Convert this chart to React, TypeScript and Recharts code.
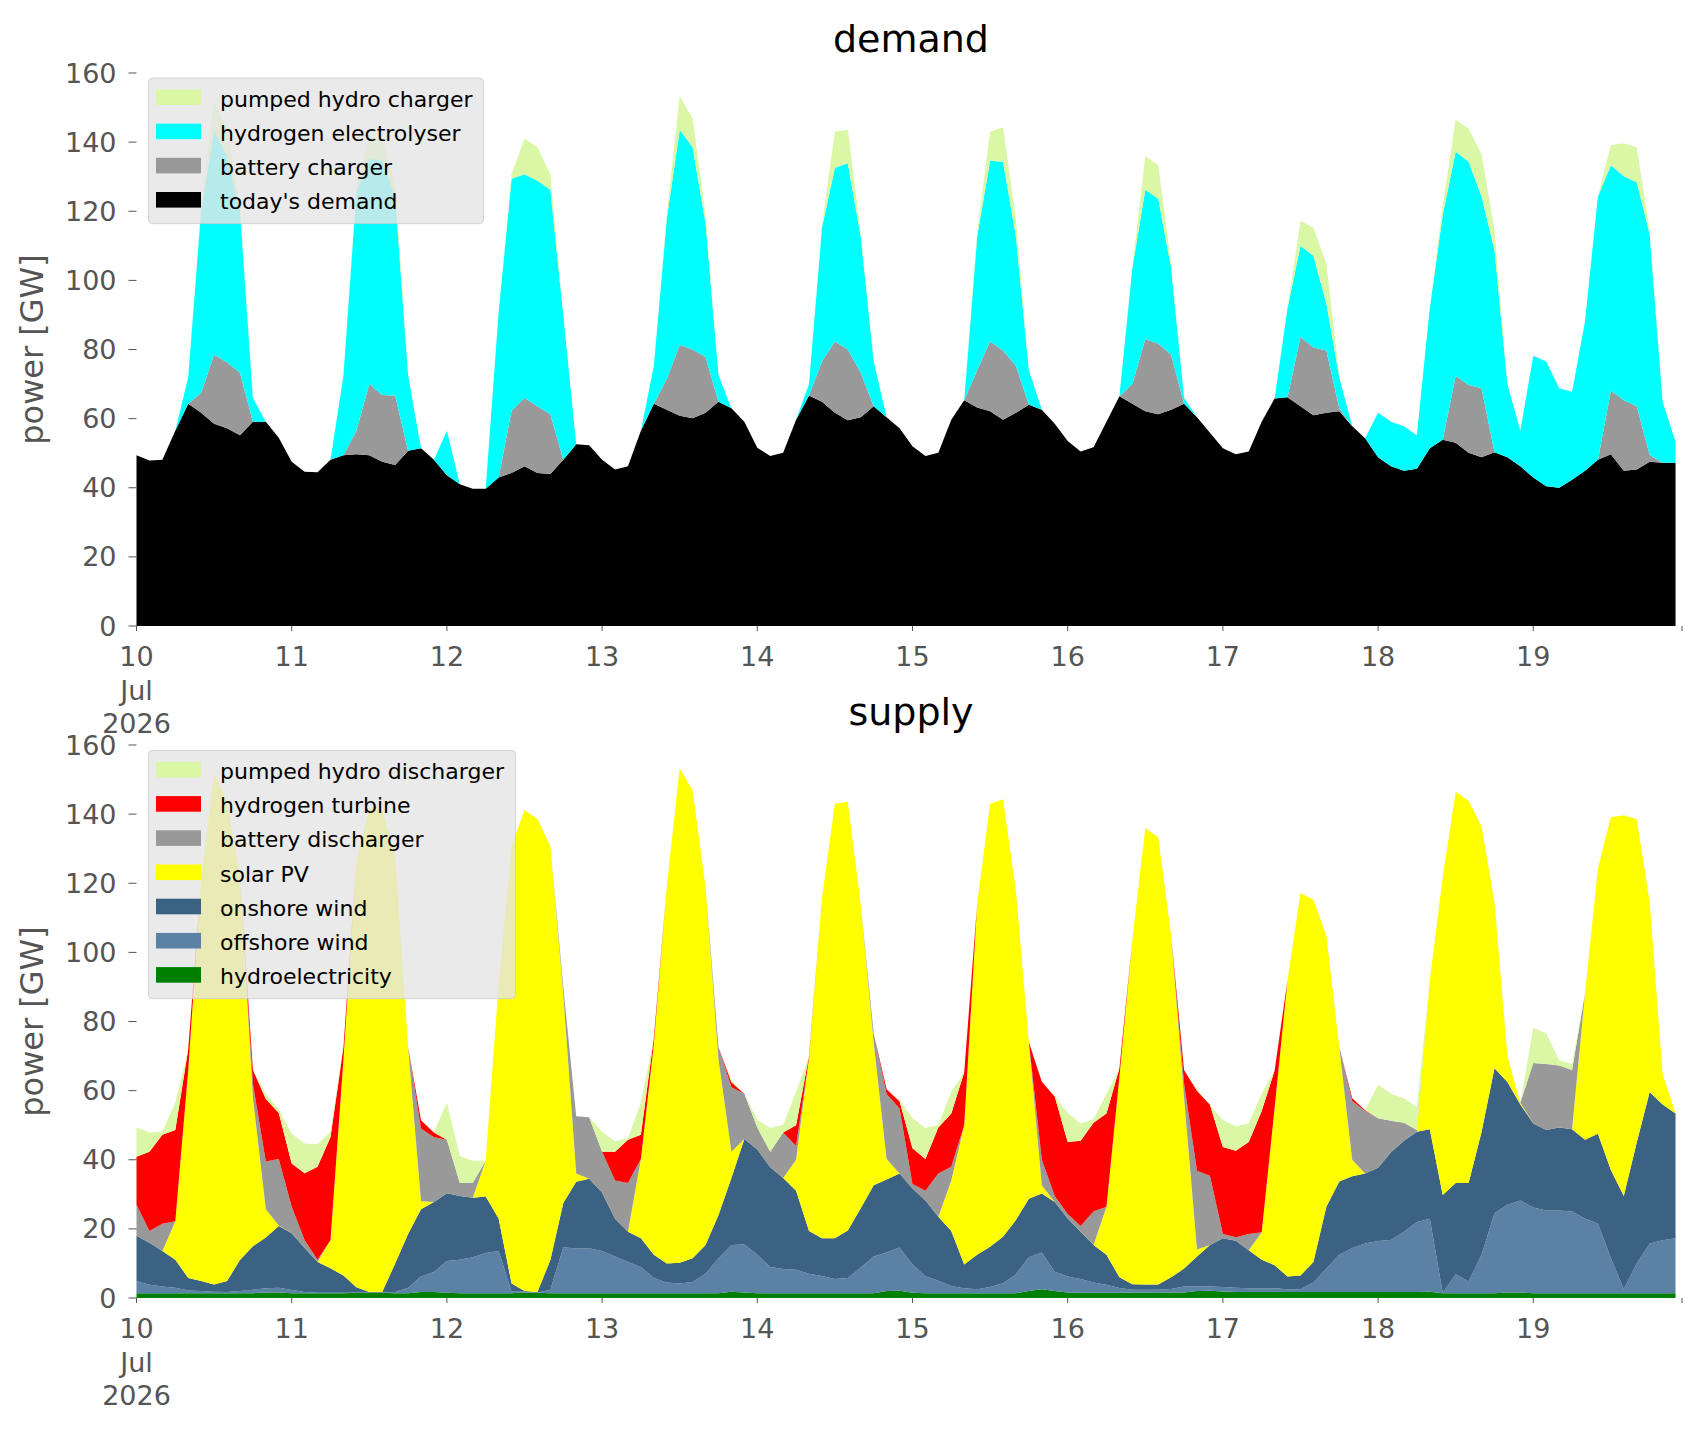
import { Area, AreaChart, XAxis, YAxis } from "recharts";

const FONT = "DejaVu Sans, Verdana, sans-serif";
const TICK_GREY = "#555555";

// hourly index, sampled every 2 h from 10 Jul 2026 00:00
const hours = Array.from({ length: 120 }, (_, i) => i * 2);
const dayTicks = [0, 24, 48, 72, 96, 120, 144, 168, 192, 216, 239];
const dayLabels = ["10", "11", "12", "13", "14", "15", "16", "17", "18", "19", ""];
const powerTicks = [0, 20, 40, 60, 80, 100, 120, 140, 160];

// ---- demand side (GW) ----
const todaysDemand = [
  49.4, 47.9, 48.1, 56.5, 64.3, 61.7, 58.5, 57.2, 55.2, 59.1, 59.1, 54.5,
  47.5, 44.6, 44.5, 48.1, 49.4, 49.7, 49.4, 47.5, 46.6, 50.7, 51.4, 48.1,
  43.6, 41, 39.7, 39.7, 43, 44.3, 46.2, 44.3, 44, 48.1, 52.6, 52.3,
  48.1, 45.3, 46.2, 56.5, 64.3, 62.6, 60.8, 60.1, 61.7, 64.9, 63, 59.1,
  51.6, 49.2, 50.1, 59.7, 66.7, 64.9, 61.7, 59.5, 60.4, 63.6, 60.4, 57.2,
  52, 49.2, 50.1, 59.7, 65.3, 63.2, 62.1, 59.7, 61.7, 64, 62.6, 58.5,
  53.5, 50.5, 51.7, 59.1, 66.5, 64.3, 62.1, 61.3, 62.6, 64.3, 60.4, 55.9,
  51.4, 49.7, 50.5, 59.1, 65.8, 66.2, 63.6, 61, 61.7, 62.1, 57.8, 54.3,
  48.8, 46.2, 44.9, 45.5, 51.4, 53.9, 53, 50.1, 48.8, 50.3, 48.8, 46.2,
  43, 40.4, 40, 42.3, 44.9, 48.1, 49.7, 44.9, 45.3, 47.5, 47.2, 47.2,
];
const batteryCharger = [
  0, 0, 0, 0, 0, 5.8, 20, 19.1, 18.1, 0, 0, 0,
  0, 0, 0, 0, 0, 6.8, 20.6, 19.3, 20, 0, 0, 0,
  0, 0, 0, 0, 0, 18, 19.8, 19.3, 17.3, 0, 0, 0,
  0, 0, 0, 0, 0, 8.8, 20.5, 19.9, 16.1, 0, 0, 0,
  0, 0, 0, 0, 0, 11.6, 20.6, 20.5, 12.9, 0, 0, 0,
  0, 0, 0, 0, 0, 10.8, 20.2, 20, 13.5, 0, 0, 0,
  0, 0, 0, 0, 0, 5.7, 20.9, 20.4, 15.9, 0, 0, 0,
  0, 0, 0, 0, 0, 0, 20, 19.6, 18, 0.9, 0, 0,
  0, 0, 0, 0, 0, 0, 19.3, 19.6, 20, 0, 0, 0,
  0, 0, 0, 0, 0, 0, 18.4, 20.4, 18.3, 2, 0, 0,
];
const hydrogenElectrolyser = [
  0, 0, 0, 0, 7.7, 52.9, 65.1, 59.6, 47.1, 6.9, 0, 0,
  0, 0, 0, 0, 23, 69, 65.2, 67.8, 57.7, 21.9, 0, 0,
  12.9, 0, 0, 0, 47.7, 67.1, 64.7, 65.2, 64.9, 41.9, 0, 0,
  0, 0, 0, 0, 10.9, 46.4, 62.3, 58.5, 38.7, 7.7, 0, 0,
  0, 0, 0, 0, 3.3, 38.7, 50.3, 53.9, 39.3, 12.9, 0, 0,
  0, 0, 0, 0, 0, 38.6, 52.3, 54.6, 37.4, 10, 0, 0,
  0, 0, 0, 0, 0, 33.6, 43.2, 41.9, 25.1, 1.7, 0, 0,
  0, 0, 0, 0, 0, 25.8, 26.4, 26.5, 13.6, 9, 0, 0,
  12.9, 12.9, 12.9, 9.7, 40.6, 65.1, 64.9, 64.6, 55.5, 58.5, 21.2, 10.3,
  35.2, 36.1, 28.8, 25.4, 43.2, 76.2, 65.2, 64.8, 64.8, 63.9, 17.7, 6.1,
];
const pumpedHydroCharger = [
  0, 0, 0, 0, 0, 0.5, 8.4, 7.7, 1.5, 0, 0, 0,
  0, 0, 0, 0, 0, 1, 6.5, 6.4, 3.7, 0, 0, 0,
  0, 0, 0, 0, 0, 1.3, 10.3, 9.7, 4.5, 0, 0, 0,
  0, 0, 0, 0, 0, 1.2, 9.7, 8.3, 2.5, 0, 0, 0,
  0, 0, 0, 0, 0, 0.5, 10.4, 9.7, 1.3, 0, 0, 0,
  0, 0, 0, 0, 0, 1.3, 8.4, 10, 5.2, 0, 0, 0,
  0, 0, 0, 0, 0, 0, 9.7, 9.7, 1.3, 0, 0, 0,
  0, 0, 0, 0, 0, 0, 7.2, 8.1, 11.6, 0.6, 0, 0,
  0, 0, 0, 0, 0, 2.7, 9.3, 9.6, 12.2, 5.8, 0, 0,
  0, 0, 0, 0, 0, 0, 5.8, 9.6, 10.1, 1.2, 0, 0,
];

// ---- supply side (GW) ----
const hydroelectricity = [
  1.4, 1.4, 1.4, 1.4, 1.4, 1.4, 1.4, 1.4, 1.4, 1.4, 1.6, 1.6,
  1.4, 1.4, 1.4, 1.4, 1.4, 1.5, 1.5, 1.5, 1.4, 1.4, 1.7, 1.7,
  1.5, 1.4, 1.4, 1.4, 1.4, 1.4, 1.6, 1.5, 1.4, 1.4, 1.4, 1.4,
  1.4, 1.4, 1.4, 1.4, 1.4, 1.4, 1.4, 1.4, 1.4, 1.4, 1.8, 1.6,
  1.4, 1.4, 1.4, 1.4, 1.4, 1.4, 1.4, 1.4, 1.4, 1.4, 2, 2.1,
  1.5, 1.4, 1.4, 1.4, 1.4, 1.4, 1.4, 1.4, 1.4, 2, 2.5, 2,
  1.6, 1.5, 1.5, 1.5, 1.5, 1.6, 1.6, 1.6, 1.6, 1.6, 2, 2.1,
  1.9, 1.7, 1.7, 1.7, 1.7, 1.7, 1.7, 1.7, 1.7, 1.7, 1.7, 1.7,
  1.7, 1.7, 1.7, 1.7, 1.8, 1.4, 1.4, 1.4, 1.4, 1.4, 1.6, 1.6,
  1.4, 1.4, 1.4, 1.4, 1.4, 1.4, 1.4, 1.4, 1.4, 1.4, 1.4, 1.4,
];
const offshoreWind = [
  3.5, 2.4, 1.9, 1.6, 0.8, 0.6, 0.4, 0.3, 0.6, 1, 1.2, 1.4,
  0.9, 0.3, 0.1, 0.1, 0.1, 0.1, 0.1, 0.1, 0.3, 1.6, 4.5, 5.8,
  9.2, 9.7, 10.4, 11.6, 12.2, 0.5, 0.2, 0.1, 1, 13.2, 13, 13,
  12.2, 10.6, 9, 7.6, 4.4, 3.1, 2.8, 3.2, 5.6, 10.1, 13.5, 13.9,
  11.1, 7.6, 7, 6.8, 5.6, 5, 4.1, 4.4, 7.4, 10.6, 11.2, 12.5,
  8.2, 4.9, 3.6, 2.1, 1.4, 1.1, 1.8, 2.9, 5.5, 9.8, 10.7, 5.6,
  4.6, 4, 3, 2.3, 1.4, 0.8, 0.8, 0.8, 1, 1.7, 1.4, 1.2,
  1.3, 1.3, 1.1, 1.1, 1.1, 0.8, 0.8, 2.8, 6.8, 10.8, 12.8, 14.1,
  14.8, 15.1, 17.5, 20.3, 21.1, 0.1, 5.5, 3.4, 11.1, 23.1, 25.4, 26.6,
  24.8, 23.9, 23.9, 23.6, 21.6, 20.1, 10.2, 1.1, 8.6, 14.4, 15.3, 15.9,
];
const onshoreWind = [
  13.1, 12.2, 10.3, 8.1, 3.6, 2.9, 2.1, 3.2, 9, 12.6, 14.7, 17.8,
  16.4, 12.8, 8.9, 7.1, 5, 1.5, 0.1, 0.1, 8.3, 15.5, 19.5, 20.3,
  19.6, 18.4, 17.2, 16.4, 9.4, 2.3, 0.2, 0.1, 8.6, 12.9, 19.2, 20.1,
  16.9, 10.9, 8.8, 8.3, 6.7, 5.5, 6, 6.9, 8.3, 12.5, 19.4, 30.5,
  30.5, 28.8, 26.3, 22.8, 12.4, 10.9, 11.8, 13.7, 17.2, 20.6, 21.1, 21.4,
  22, 21.9, 18.5, 15.9, 6.9, 10, 11.6, 13.4, 15.7, 16.9, 17, 20.2,
  16.8, 13.7, 10.8, 8.7, 3.1, 1.6, 1.5, 1.5, 3.4, 5.2, 8.6, 12,
  14.1, 13.6, 11, 8.3, 6.7, 3.7, 4, 5.9, 17.9, 21.2, 20.7, 20.2,
  21.2, 25.4, 26.3, 26.1, 25.9, 28.3, 26.4, 28.5, 35.5, 42, 35.5, 27.8,
  24.3, 23.3, 24, 23.8, 22.8, 26, 25.4, 27, 35, 43.8, 39.3, 36.1,
];
const solarPV = [
  0, 0, 0, 11.1, 60.2, 116.1, 148.1, 138.7, 111, 43, 8.2, 0.2,
  0, 0, 0, 8.2, 62.5, 123.5, 140.1, 139.4, 118, 54.1, 2.3, 0,
  0, 0, 0, 10.3, 67.7, 126.5, 139.2, 136.9, 119.7, 60.5, 2.4, 0,
  0, 0, 0, 22.9, 61, 109, 143.1, 135.3, 103.7, 45, 7.6, 0,
  0, 0, 0, 9, 50, 98.4, 125.7, 124.1, 87.9, 41.4, 5.9, 0,
  0, 0, 0, 14.6, 40.3, 101.4, 128.2, 126.6, 95.2, 45.3, 2.4, 0,
  0, 0, 0, 13.9, 58, 99.6, 132, 129.4, 98.9, 49.5, 2, 0,
  0, 0, 0, 7.9, 45.5, 85.8, 110.7, 104.8, 78.5, 38.9, 4.8, 0,
  0, 0, 0, 0, 43.2, 91.9, 113.2, 110.6, 88.5, 48.1, 7.5, 0.5,
  0, 0, 0, 0, 42.3, 76.8, 102.1, 110.2, 93.5, 55, 8.9, 0,
];
const batteryDischarger = [
  9, 3.4, 7.9, 0, 0, 0, 0, 0, 0, 4, 13.8, 19.2,
  7.7, 2.2, 0.7, 0, 0, 0, 0, 0, 0, 0, 21, 18.7,
  15.5, 3.8, 4.3, 0, 0, 0, 0, 0, 0, 2, 16.6, 17.8,
  11.8, 11.1, 14.1, 0, 0, 0, 0, 0, 0, 3.6, 18.7, 13.1,
  6.3, 4.5, 13.2, 4, 0, 0, 0, 0, 0, 2.5, 18.8, 18.8,
  1.3, 2.8, 12.5, 4, 0, 0, 0, 0, 0, 0, 7.4, 1.7,
  1.3, 1.6, 9.7, 0, 0, 0, 0, 0, 0, 4, 22.8, 20.1,
  1.2, 1, 4.7, 0, 0, 0, 0, 0, 0, 0, 17, 18.1,
  14.3, 9.1, 5.2, 0.5, 0, 0, 0, 0, 0, 0, 0, 0,
  17.5, 19.1, 18, 17.2, 0, 0, 0, 0, 0, 0, 0, 0,
];
const hydrogenTurbine = [
  13.9, 22.9, 25.7, 26.4, 6, 0, 0, 0, 0, 4, 18.1, 13.3,
  12.5, 19.4, 26.9, 29.8, 3.4, 0, 0, 0, 0, 0, 2.4, 1.4,
  0, 0, 0, 0, 0, 0, 0, 0, 0, 0, 0, 0,
  0, 8.3, 12.5, 7, 1.7, 0, 0, 0, 0, 0, 1.4, 0,
  0, 0, 0, 6, 0.6, 0, 0, 0, 0, 0, 1.4, 2.1,
  10.3, 9.2, 13.3, 15.4, 15.3, 0, 0, 0, 0, 0, 22.6, 28.8,
  20.8, 24.7, 25.7, 27, 2.5, 0, 0, 0, 0, 4, 23.2, 20.5,
  25.2, 25, 26.6, 35.1, 10.8, 0, 0, 0, 0, 0, 0.8, 0.2,
  0, 0, 0, 0, 0, 0, 0, 0, 0, 0, 0, 0,
  0, 0, 0, 0, 0, 0, 0, 0, 0, 0, 0, 0,
];
const pumpedHydroDischarger = [
  8.5, 5.6, 0.9, 7.9, 0, 0, 0, 0, 0, 0, 1.5, 1,
  8.6, 8.5, 6.5, 1.5, 0, 0, 0, 0, 0, 0, 0, 0.2,
  10.7, 7.7, 6.4, 0, 0, 0, 0, 0, 0, 0, 0, 0,
  5.8, 3, 0.4, 9.3, 0, 0, 0, 0, 0, 0, 0.6, 0,
  2.3, 6.9, 2.2, 9.7, 0, 0, 0, 0, 0, 0, 0, 0.3,
  8.7, 9, 0.8, 6.3, 0, 0, 0, 0, 0, 0, 0, 0.2,
  8.4, 5, 1, 5.7, 0, 0, 0, 0, 0, 0, 0.4, 0,
  7.7, 7.1, 5.4, 5, 0, 0, 0, 0, 0, 0, 0, 0,
  9.7, 7.8, 7.1, 6.6, 0, 0, 0, 0, 0, 0, 0, 0,
  10.2, 8.8, 1.5, 1.7, 0, 0, 0, 0, 0, 0, 0, 0,
];

type Series = { key: string; name: string; color: string; values: number[] };

// stacking order: first entry sits at the bottom
const demandSeries: Series[] = [
  { key: "today", name: "today's demand", color: "#000000", values: todaysDemand },
  { key: "batteryCharger", name: "battery charger", color: "#999999", values: batteryCharger },
  { key: "electrolyser", name: "hydrogen electrolyser", color: "#00ffff", values: hydrogenElectrolyser },
  { key: "phCharger", name: "pumped hydro charger", color: "#d9f7a4", values: pumpedHydroCharger },
];
const supplySeries: Series[] = [
  { key: "hydro", name: "hydroelectricity", color: "#008000", values: hydroelectricity },
  { key: "offshore", name: "offshore wind", color: "#5b82a4", values: offshoreWind },
  { key: "onshore", name: "onshore wind", color: "#3b6183", values: onshoreWind },
  { key: "solar", name: "solar PV", color: "#ffff00", values: solarPV },
  { key: "batteryDischarger", name: "battery discharger", color: "#999999", values: batteryDischarger },
  { key: "h2Turbine", name: "hydrogen turbine", color: "#ff0000", values: hydrogenTurbine },
  { key: "phDischarger", name: "pumped hydro discharger", color: "#d9f7a4", values: pumpedHydroDischarger },
];

function toRows(series: Series[]) {
  return hours.map((h, i) => {
    const row: Record<string, number> = { h };
    series.forEach((s) => (row[s.key] = s.values[i]));
    return row;
  });
}

function DayTick(props: any) {
  const { x, y, payload } = props;
  const idx = dayTicks.indexOf(payload.value);
  const label = dayLabels[idx] ?? "";
  const lines = idx === 0 ? [label, "Jul", "2026"] : [label];
  return (
    <text x={x} y={y} textAnchor="middle" fill={TICK_GREY} fontSize={27} fontFamily={FONT}>
      {lines.map((t, k) => (
        <tspan key={k} x={x} dy={k === 0 ? 33 : 33.5}>
          {t}
        </tspan>
      ))}
    </text>
  );
}

const W = 1706;
const PLOT_LEFT = 136.5;
const PLOT_RIGHT = 1682;
const Y_AXIS_W = 100;

function Panel({ series, top, height, bottomPad }: { series: Series[]; top: number; height: number; bottomPad: number }) {
  const data = toRows(series);
  return (
    <div style={{ position: "absolute", left: 0, top }}>
      <AreaChart
        width={W}
        height={height}
        data={data}
        margin={{ top: 73, right: W - PLOT_RIGHT, bottom: bottomPad, left: PLOT_LEFT - Y_AXIS_W }}
        style={{ fontFamily: FONT }}
      >
        <XAxis
          type="number"
          dataKey="h"
          domain={[0, 239]}
          ticks={dayTicks}
          interval={0}
          height={40}
          axisLine={false}
          tickLine={{ stroke: TICK_GREY }}
          tickSize={5}
          tickMargin={2}
          tick={<DayTick />}
        />
        <YAxis
          type="number"
          domain={[0, 160]}
          ticks={powerTicks}
          interval={0}
          width={Y_AXIS_W}
          axisLine={false}
          tickLine={{ stroke: TICK_GREY }}
          tickSize={8}
          tickMargin={12}
          tick={{ fill: TICK_GREY, fontSize: 27, fontFamily: FONT }}
        />
        {series.map((s) => (
          <Area
            key={s.key}
            type="linear"
            dataKey={s.key}
            name={s.name}
            stackId="stack"
            stroke="none"
            fill={s.color}
            fillOpacity={1}
            dot={false}
            activeDot={false}
            isAnimationActive={false}
          />
        ))}
      </AreaChart>
    </div>
  );
}

function LegendBox({ series, x, y, width }: { series: Series[]; x: number; y: number; width: number }) {
  const items = [...series].reverse();
  const rowGap = 34.2;
  const height = 19.5 * 2 + rowGap * (items.length - 1) + 4;
  return (
    <g>
      <rect x={x} y={y} width={width} height={height} rx={4} fill="#e5e5e5" fillOpacity={0.8} stroke="#cccccc" strokeOpacity={0.8} />
      {items.map((s, i) => {
        const cy = y + 19.2 + i * rowGap;
        return (
          <g key={s.key}>
            <rect x={x + 7.5} y={cy - 7.8} width={45} height={15.6} fill={s.color} />
            <text x={x + 71.5} y={cy + 9.3} fontSize={22} fontFamily={FONT} fill="#000000">
              {s.name}
            </text>
          </g>
        );
      })}
    </g>
  );
}

export default function App() {
  return (
    <div style={{ position: "absolute", left: 0, top: 0, width: W, height: 1431, background: "#ffffff" }}>
      <Panel series={demandSeries} top={0} height={740} bottomPad={74} />
      <Panel series={supplySeries} top={672} height={759} bottomPad={93} />
      <svg width={W} height={1431} style={{ position: "absolute", left: 0, top: 0, pointerEvents: "none" }}>
        <text x={911} y={52} textAnchor="middle" fontSize={38} fontFamily={FONT} fill="#000000">
          demand
        </text>
        <text x={911} y={725} textAnchor="middle" fontSize={38} fontFamily={FONT} fill="#000000">
          supply
        </text>
        <text transform="translate(43,349.5) rotate(-90)" textAnchor="middle" fontSize={32} fontFamily={FONT} fill={TICK_GREY}>
          power [GW]
        </text>
        <text transform="translate(43,1021.5) rotate(-90)" textAnchor="middle" fontSize={32} fontFamily={FONT} fill={TICK_GREY}>
          power [GW]
        </text>
        <LegendBox series={demandSeries} x={148.5} y={78} width={335} />
        <LegendBox series={supplySeries} x={148.5} y={750.5} width={367} />
      </svg>
    </div>
  );
}
